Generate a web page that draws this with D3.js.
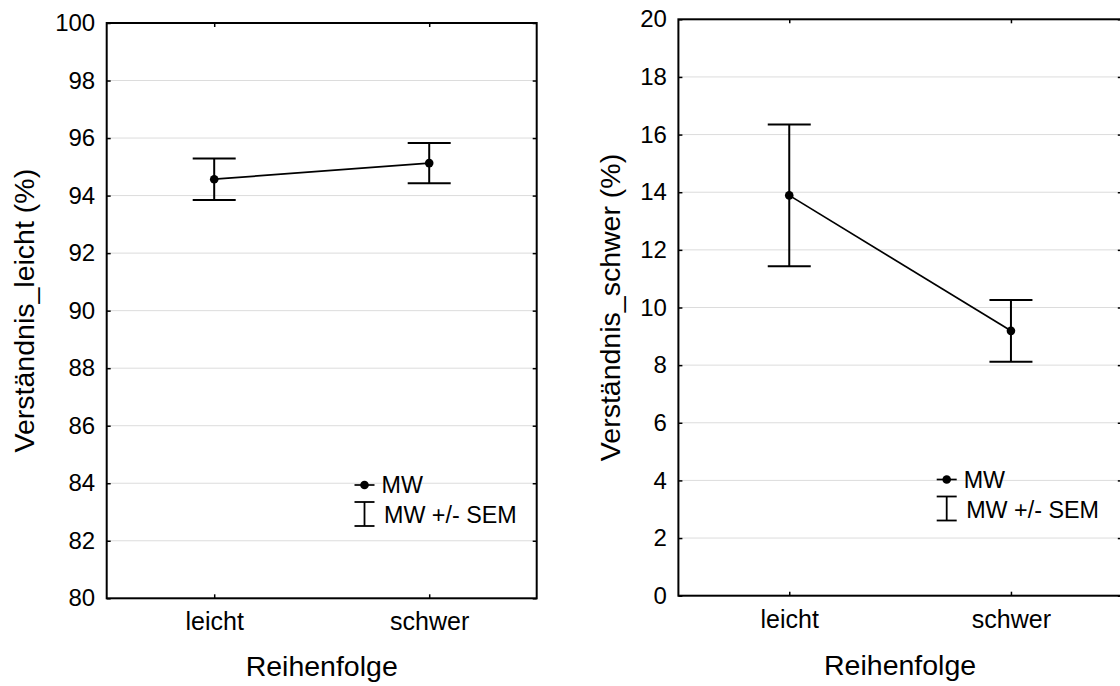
<!DOCTYPE html>
<html>
<head>
<meta charset="utf-8">
<script src="https://cdn.jsdelivr.net/npm/d3@7"></script>
<style>
  html, body { margin: 0; padding: 0; background: #fff; }
  svg { display: block; font-family: "Liberation Sans", Arial, sans-serif; }
</style>
</head>
<body>
<svg id="chart" width="1120" height="686"></svg>
<script>
// ---- data ----
const categories = ["leicht", "schwer"];
const leichtMeans = [94.57, 95.13];
const leichtSem = [0.72, 0.70];
const schwerMeans = [13.89, 9.19];
const schwerSem = [2.46, 1.07];
const leichtTicks = [80, 82, 84, 86, 88, 90, 92, 94, 96, 98, 100];
const schwerTicks = [0, 2, 4, 6, 8, 10, 12, 14, 16, 18, 20];
const leichtTitle = "Verständnis_leicht (%)";
const schwerTitle = "Verständnis_schwer (%)";
const xTitle = "Reihenfolge";
const legendLabels = ["MW", "MW +/- SEM"];

// ---- layout ----
const panels = [
  { means: leichtMeans, sem: leichtSem, ticks: leichtTicks, title: leichtTitle,
    x0: 106.7, x1: 536.7, y0: 23, y1: 598.3, yTitleX: 33.5, xTitleY: 676,
    legX: 364.5, legY: 485 },
  { means: schwerMeans, sem: schwerSem, ticks: schwerTicks, title: schwerTitle,
    x0: 678.4, x1: 1121.8, y0: 19.3, y1: 595.7, yTitleX: 619.5, xTitleY: 675,
    legX: 946.7, legY: 479.5 }
];

const svg = d3.select("#chart");
const TICK = 4;

panels.forEach(p => {
  const g = svg.append("g");
  const x = d3.scalePoint().domain(categories).range([p.x0, p.x1]).padding(0.5);
  const y = d3.scaleLinear().domain(d3.extent(p.ticks)).range([p.y1, p.y0]);

  // gridlines
  g.append("g").selectAll("line")
    .data(p.ticks.slice(1, -1))
    .join("line")
    .attr("x1", p.x0).attr("x2", p.x1)
    .attr("y1", d => y(d)).attr("y2", d => y(d))
    .attr("stroke", "#dcdcdc").attr("stroke-width", 1);

  // axes (inward ticks)
  const left = g.append("g").attr("transform", `translate(${p.x0},0)`)
    .call(d3.axisLeft(y).tickValues(p.ticks).tickSizeInner(-TICK).tickSizeOuter(0).tickPadding(11.5));
  const right = g.append("g").attr("transform", `translate(${p.x1},0)`)
    .call(d3.axisRight(y).tickValues(p.ticks).tickSizeInner(-TICK).tickSizeOuter(0).tickFormat(""));
  const bottom = g.append("g").attr("transform", `translate(0,${p.y1})`)
    .call(d3.axisBottom(x).tickSizeInner(-TICK).tickSizeOuter(0));
  const top = g.append("g").attr("transform", `translate(0,${p.y0})`)
    .call(d3.axisTop(x).tickSizeInner(-TICK).tickSizeOuter(0).tickFormat(""));

  [left, right, bottom, top].forEach(a => {
    a.select(".domain").remove();
    a.selectAll(".tick line").attr("stroke", "#000").attr("stroke-width", 1.5);
    a.selectAll("text").attr("fill", "#000").attr("font-family", null);
  });
  left.selectAll("text").attr("font-size", 24);
  bottom.selectAll("text").attr("font-size", 25).attr("y", 32).attr("dy", null);

  // frame
  g.append("rect")
    .attr("x", p.x0).attr("y", p.y0)
    .attr("width", p.x1 - p.x0).attr("height", p.y1 - p.y0)
    .attr("fill", "none").attr("stroke", "#000").attr("stroke-width", 2);

  // titles
  g.append("text")
    .attr("transform", `translate(${p.yTitleX},${(p.y0 + p.y1) / 2}) rotate(-90)`)
    .attr("text-anchor", "middle").attr("font-size", 28.5).attr("fill", "#000")
    .text(p.title);
  g.append("text")
    .attr("x", (p.x0 + p.x1) / 2).attr("y", p.xTitleY)
    .attr("text-anchor", "middle").attr("font-size", 28.5).attr("fill", "#000")
    .text(xTitle);

  // data
  const pts = categories.map((c, i) => ({ c, m: p.means[i], s: p.sem[i] }));
  const capW = 21.5;
  const eb = g.append("g").attr("stroke", "#000").attr("stroke-width", 2);
  eb.selectAll("line.v").data(pts).join("line").attr("class", "v")
    .attr("x1", d => x(d.c)).attr("x2", d => x(d.c))
    .attr("y1", d => y(d.m - d.s)).attr("y2", d => y(d.m + d.s));
  eb.selectAll("line.hi").data(pts).join("line").attr("class", "hi")
    .attr("x1", d => x(d.c) - capW).attr("x2", d => x(d.c) + capW)
    .attr("y1", d => y(d.m + d.s)).attr("y2", d => y(d.m + d.s));
  eb.selectAll("line.lo").data(pts).join("line").attr("class", "lo")
    .attr("x1", d => x(d.c) - capW).attr("x2", d => x(d.c) + capW)
    .attr("y1", d => y(d.m - d.s)).attr("y2", d => y(d.m - d.s));

  g.append("path").datum(pts)
    .attr("d", d3.line().x(d => x(d.c)).y(d => y(d.m)))
    .attr("fill", "none").attr("stroke", "#000").attr("stroke-width", 1.7);
  g.selectAll("circle.pt").data(pts).join("circle").attr("class", "pt")
    .attr("cx", d => x(d.c)).attr("cy", d => y(d.m)).attr("r", 4.3).attr("fill", "#000");

  // legend
  const lg = g.append("g").attr("transform", `translate(${p.legX},${p.legY})`);
  lg.append("line").attr("x1", -10).attr("x2", 10).attr("y1", 0).attr("y2", 0)
    .attr("stroke", "#000").attr("stroke-width", 1.7);
  lg.append("circle").attr("r", 4.3).attr("fill", "#000");
  lg.append("text").attr("x", 17).attr("y", 0).attr("dy", "0.35em")
    .attr("font-size", 23.3).attr("fill", "#000").text(legendLabels[0]);
  const ey0 = 17, ey1 = 41;
  lg.append("line").attr("x1", 0).attr("x2", 0).attr("y1", ey0).attr("y2", ey1)
    .attr("stroke", "#000").attr("stroke-width", 1.8);
  lg.append("line").attr("x1", -10).attr("x2", 10).attr("y1", ey0).attr("y2", ey0)
    .attr("stroke", "#000").attr("stroke-width", 1.8);
  lg.append("line").attr("x1", -10).attr("x2", 10).attr("y1", ey1).attr("y2", ey1)
    .attr("stroke", "#000").attr("stroke-width", 1.8);
  lg.append("text").attr("x", 19.5).attr("y", (ey0 + ey1) / 2 + 1).attr("dy", "0.35em")
    .attr("font-size", 23.3).attr("fill", "#000").text(legendLabels[1]);
});
</script>
</body>
</html>
